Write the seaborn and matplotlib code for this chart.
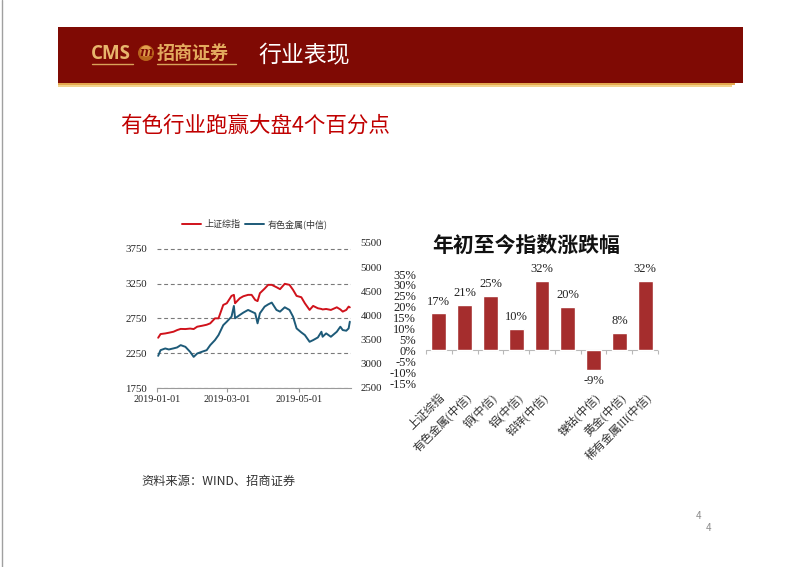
import matplotlib
matplotlib.use('Agg')
import matplotlib.pyplot as plt
import matplotlib.dates as mdates
from matplotlib.patches import Rectangle, Circle
import seaborn as sns
import pandas as pd

# ---------------- data ----------------
dates = ['2019-01-02', '2019-01-04', '2019-01-08', '2019-01-11', '2019-01-15', '2019-01-18',
         '2019-01-21', '2019-01-25', '2019-01-29', '2019-02-01', '2019-02-04', '2019-02-08',
         '2019-02-12', '2019-02-15', '2019-02-19', '2019-02-22', '2019-02-26', '2019-03-01',
         '2019-03-05', '2019-03-07', '2019-03-08', '2019-03-12', '2019-03-15', '2019-03-19',
         '2019-03-22', '2019-03-25', '2019-03-27', '2019-03-29', '2019-04-02', '2019-04-05',
         '2019-04-08', '2019-04-12', '2019-04-15', '2019-04-19', '2019-04-23', '2019-04-26',
         '2019-04-29', '2019-05-03', '2019-05-06', '2019-05-10', '2019-05-13', '2019-05-17',
         '2019-05-20', '2019-05-21', '2019-05-24', '2019-05-28', '2019-06-02', '2019-06-05',
         '2019-06-07', '2019-06-10', '2019-06-12', '2019-06-13']
sh_index = [2473, 2526, 2535, 2545, 2560, 2583, 2600, 2598, 2605, 2598, 2632, 2645,
            2660, 2680, 2752, 2752, 2945, 2969, 3075, 3090, 2969, 3041, 3070, 3090,
            3090, 3017, 3000, 3114, 3180, 3234, 3234, 3200, 3172, 3249, 3234, 3162,
            3075, 3056, 2969, 2873, 2931, 2897, 2887, 2880, 2887, 2873, 2911, 2880,
            2849, 2873, 2921, 2910]
nonferrous = [3165, 3283, 3318, 3297, 3320, 3339, 3387, 3352, 3248, 3144, 3214, 3250,
              3283, 3387, 3491, 3595, 3800, 3872, 3976, 4198, 3942, 4011, 4060, 4115,
              4080, 4046, 3838, 4046, 4184, 4230, 4267, 4115, 4080, 4170, 4115, 3976,
              3733, 3650, 3595, 3456, 3491, 3546, 3664, 3560, 3630, 3560, 3664, 3768,
              3699, 3685, 3733, 3872]
line_labels = ['上证综指', '有色金属(中信)']
left_ticks = [1750, 2250, 2750, 3250, 3750]
right_ticks = [2500, 3000, 3500, 4000, 4500, 5000, 5500]
date_ticks = ['2019-01-01', '2019-03-01', '2019-05-01']

categories = ['上证综指', '有色金属(中信)', '铜(中信)', '铝(中信)', '铅锌(中信)', '',
              '镍钴(中信)', '黄金(中信)', '稀有金属III(中信)']
changes = [17, 21, 25, 10, 32, 20, -9, 8, 32]
pct_ticks = [35, 30, 25, 20, 15, 10, 5, 0, -5, -10, -15]

# ---------------- style ----------------
sns.set_theme(style='white')
plt.rcParams['font.family'] = ['Noto Sans CJK SC', 'DejaVu Sans']
plt.rcParams['axes.unicode_minus'] = False
SERIF = ['Liberation Serif', 'Noto Sans CJK SC']
RED = '#D0121B'
BLUE = '#1D5A78'
BAR = '#A52D2D'

W, H = 802, 567
fig = plt.figure(figsize=(W / 100, H / 100), dpi=100)


def px_axes(l, t, r, b):
    return fig.add_axes([l / W, 1 - b / H, (r - l) / W, (b - t) / H])


# ---------------- background / header ----------------
bg = fig.add_axes([0, 0, 1, 1])
bg.set_xlim(0, W)
bg.set_ylim(H, 0)
bg.axis('off')
bg.set_zorder(-5)
bg.add_patch(Rectangle((58, 27), 685, 56, color='#7F0A04', lw=0))
bg.add_patch(Rectangle((58, 83), 677, 2, color='#E4A84E', lw=0))
bg.add_patch(Rectangle((58, 85), 674, 2, color='#F3D48E', lw=0))
bg.plot([1.5, 1.5], [0, H], color='#A0A0A0', lw=1)

bg.text(91, 54, 'CMS', color='#E8B56C', fontsize=13.5, fontweight='bold',
        family=['Open Sans', 'DejaVu Sans'], va='center', ha='left')
bg.plot([92, 133], [63.5, 63.5], color='#D9A35A', lw=1)
bg.add_patch(Circle((146, 53), 8, color='#B8641C', lw=0))
bg.add_patch(Circle((146, 51), 5.5, color='#E2A050', lw=0))
bg.text(146, 53, 'm', color='#7F0A04', fontsize=9, fontweight='bold', style='italic',
        family='DejaVu Serif', ha='center', va='center')
bg.text(157, 53, '招商证券', color='#E3AA5E', fontsize=13, fontweight='bold',
        va='center', ha='left')
bg.plot([157, 236], [64, 64], color='#D9A35A', lw=1)
bg.text(258, 56, '行业表现', color='white', fontsize=16.5, va='center', ha='left')

bg.text(120, 126, '有色行业跑赢大盘4个百分点', color='#C00000', fontsize=15.5,
        va='center', ha='left')
bg.text(141, 481, '资料来源：WIND、招商证券', color='#333333', fontsize=8.8,
        va='center', ha='left')
bg.text(699, 516, '4', color='#8C8C8C', fontsize=7, va='center', ha='center')
bg.text(708, 528, '4', color='#8C8C8C', fontsize=7, va='center', ha='center')

# ---------------- left line chart ----------------
df = pd.DataFrame({'date': pd.to_datetime(dates), 'sh': sh_index, 'nf': nonferrous})
ax1 = px_axes(157, 243, 351, 388)
sns.lineplot(data=df, x='date', y='sh', ax=ax1, color=RED, lw=1.4, label=line_labels[0],
             legend=False)
ax2 = ax1.twinx()
sns.lineplot(data=df, x='date', y='nf', ax=ax2, color=BLUE, lw=1.4, label=line_labels[1],
             legend=False)

ax1.set_ylim(1750, 3836)
ax1.set_yticks(left_ticks)
ax2.set_ylim(2500, 5500)
ax2.set_yticks(right_ticks)
ax1.set_xlim(pd.Timestamp('2019-01-01'), pd.Timestamp('2019-06-14'))
ax1.set_xticks(pd.to_datetime(date_ticks))
ax1.xaxis.set_major_formatter(mdates.DateFormatter('%Y-%m-%d'))
ax1.grid(axis='y', linestyle=(0, (3.5, 2.5)), color='#7A7A7A', lw=0.8)
ax1.grid(axis='x', visible=False)
ax2.grid(False)
for a in (ax1, ax2):
    a.set_xlabel('')
    a.set_ylabel('')
    for s in ('top', 'left', 'right'):
        a.spines[s].set_visible(False)
    a.spines['bottom'].set_color('#9A9A9A')
    a.spines['bottom'].set_linewidth(0.8)
    a.patch.set_alpha(0)
ax2.spines['bottom'].set_visible(False)
ax1.tick_params(axis='x', direction='out', length=3, width=0.8, color='#9A9A9A', pad=2,
                labelsize=7.3, labelcolor='#222222', bottom=True)
ax1.tick_params(axis='y', length=0, pad=7, labelsize=7.8, labelcolor='#222222')
ax2.tick_params(axis='y', length=0, pad=7, labelsize=7.8, labelcolor='#222222')
for lab in ax1.get_xticklabels() + ax1.get_yticklabels() + ax2.get_yticklabels():
    lab.set_family(SERIF)

h1, l1 = ax1.get_legend_handles_labels()
h2, l2 = ax2.get_legend_handles_labels()
fig.legend(h1 + h2, l1 + l2, loc='center', bbox_to_anchor=(255 / W, 1 - 224 / H),
           ncol=2, frameon=False, fontsize=6.5, handlelength=2.1, handletextpad=0.4,
           columnspacing=0.5, labelcolor='#333333')

# ---------------- right bar chart ----------------
bax = px_axes(426, 274, 658, 383)
sns.barplot(x=list(range(len(categories))), y=changes, ax=bax, color=BAR, width=0.58,
            saturation=1, native_scale=False)
bax.set_ylim(-15, 35)
bax.set_xlim(-0.5, len(categories) - 0.5)
bax.set_yticks(pct_ticks)
bax.set_yticklabels([f'{v}%' for v in pct_ticks])
bax.set_xticks(range(len(categories)))
bax.set_xticklabels(categories, rotation=45, ha='right', rotation_mode='anchor')
for s in bax.spines.values():
    s.set_visible(False)
bax.grid(False)
bax.patch.set_alpha(0)
bax.axhline(0, color='#B8B8B8', lw=0.8, zorder=0)
bax.vlines([i - 0.5 for i in range(len(categories) + 1)], 0, -1.8, color='#B8B8B8',
           lw=0.8, clip_on=False)
bax.tick_params(axis='y', length=0, pad=7, labelsize=9, labelcolor='#222222')
bax.tick_params(axis='x', length=0, pad=6, labelsize=8.3, labelcolor='#333333')
for lab in bax.get_yticklabels():
    lab.set_family(SERIF)
for lab in bax.get_xticklabels():
    lab.set_family(SERIF)
    lab.set_fontweight('light')
bax.bar_label(bax.containers[0], labels=[f'{v}%' for v in changes], padding=4,
              fontsize=9, family='Liberation Serif', color='#222222')
bax.set_xlabel('')
bax.set_ylabel('')
fig.text(526 / W, 1 - 245 / H, '年初至今指数涨跌幅', fontsize=15, fontweight='bold',
         ha='center', va='center', color='#111111')

fig.savefig('out.png', dpi=100)
